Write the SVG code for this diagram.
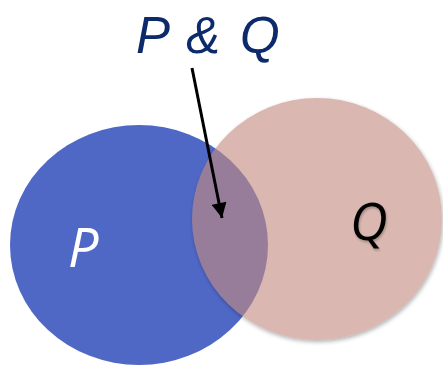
<svg xmlns="http://www.w3.org/2000/svg" width="443" height="366" viewBox="0 0 443 366">
<style>
.lbl{font-family:"Open Sans","Liberation Sans",Arial,sans-serif;font-style:italic;}
.ttl{font-family:"Liberation Sans",Arial,sans-serif;font-style:italic;}
</style>
<defs>
<marker id="ah" viewBox="0 0 10 10" refX="10" refY="5" markerWidth="5.5" markerHeight="5" markerUnits="strokeWidth" orient="auto">
<path d="M0,0 L10,5 L0,10 Z" fill="#000"/>
</marker>
<filter id="sh" x="-10%" y="-10%" width="120%" height="120%">
<feGaussianBlur in="SourceAlpha" stdDeviation="2"/>
<feOffset dx="1" dy="2"/>
<feComponentTransfer><feFuncA type="linear" slope="0.3"/></feComponentTransfer>
<feComposite in2="SourceAlpha" operator="out"/>
</filter>
<filter id="tsh" x="-20%" y="-20%" width="140%" height="140%">
<feGaussianBlur in="SourceAlpha" stdDeviation="1.2"/>
<feOffset dx="1" dy="2"/>
<feComponentTransfer><feFuncA type="linear" slope="0.25"/></feComponentTransfer>
<feMerge><feMergeNode/><feMergeNode in="SourceGraphic"/></feMerge>
</filter>
</defs>
<rect width="443" height="366" fill="#fff"/>
<g id="P">
<ellipse cx="139" cy="245" rx="129" ry="120" fill="#4f68c6"/>
<text class="lbl" x="68" y="267" font-size="54" fill="#fff">P</text>
</g>
<g id="Q">
<ellipse cx="317" cy="219" rx="125" ry="121" fill="#000" filter="url(#sh)"/>
<ellipse cx="317" cy="219" rx="125" ry="121" fill="#c48a80" fill-opacity="0.62"/>
<text class="lbl" x="350" y="240" font-size="52" fill="#000" filter="url(#tsh)">Q</text>
</g>
<g id="PQ">
<text class="ttl" y="53" font-size="51" fill="#0d2a6a"><tspan x="136">P</tspan><tspan x="186">&amp;</tspan><tspan x="240">Q</tspan></text>
</g>
<g id="connectors">
<line x1="192" y1="68" x2="222" y2="218" stroke="#000" stroke-width="3" marker-end="url(#ah)"/>
</g>
</svg>
